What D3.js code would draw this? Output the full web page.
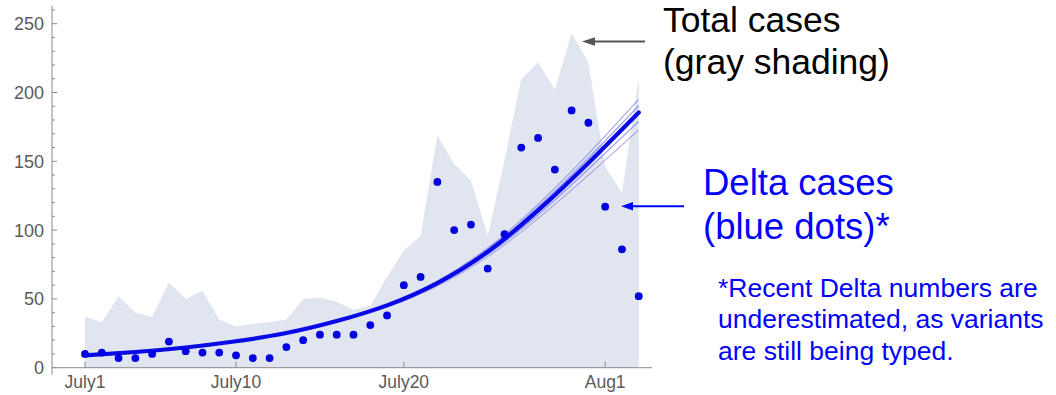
<!DOCTYPE html>
<html>
<head>
<meta charset="utf-8">
<script src="https://cdn.jsdelivr.net/npm/d3@7"></script>
<style>
  html, body { margin: 0; padding: 0; background: #ffffff; }
  svg { display: block; font-family: "Liberation Sans", Arial, Helvetica, sans-serif; }
</style>
</head>
<body>
<svg id="chart" width="1056" height="395"></svg>
<script>
// Daily case counts, July 1 (day 0) through August 3 (day 33)
const dayIndex = d3.range(34);
const totalCases = [37, 33, 52, 40, 37, 62, 50, 56, 35, 30, 32, 33, 35, 50, 51, 48,
                    42, 45, 66, 85, 96, 169, 148, 136, 96, 151, 210, 222, 202, 243, 222, 146, 127, 211];
const deltaCases = [10, 11, 7, 7, 10, 19, 12, 11, 11, 9, 7, 7, 15, 20, 24, 24,
                    24, 31, 38, 60, 66, 135, 100, 104, 72, 97, 160, 167, 144, 187, 178, 117, 86, 52];

// Growth fit (thick line) and its ensemble of alternative fits (thin lines)
const fitDays = [0, 3, 6, 9, 12, 15, 18, 21, 24, 27, 30, 33];
const fitMain = [9, 11.4, 14.7, 19.2, 25.2, 33.9, 45.3, 61.5, 84.3, 114.3, 148.8, 185.5];
const fitEnsemble = [
  [9, 11.42, 14.76, 19.34, 25.48, 34.43, 46.23, 63.09, 86.97, 118.6, 155.4, 195],
  [9, 11.41, 14.73, 19.27, 25.35, 34.18, 45.79, 62.34, 85.71, 116.6, 152.3, 190.5],
  [9, 11.39, 14.66, 19.10, 25.01, 33.54, 44.66, 60.41, 82.47, 111.1, 144.3, 179],
  [9, 11.38, 14.62, 19.01, 24.82, 33.19, 44.06, 59.38, 80.75, 108.5, 140.0, 172.8]
];

// Axis ticks
const xTickDays = [0, 9, 19, 31];
const xTickLabels = ["July1", "July10", "July20", "Aug1"];
const yMajorTicks = [0, 50, 100, 150, 200, 250];
const yMinorTicks = d3.range(0, 261, 10).filter(v => v % 50 !== 0);

const svg = d3.select("#chart");

const x = d3.scaleLinear().domain([-1.967, 33.79]).range([52, 652]);
const y = d3.scaleLinear().domain([0, 263]).range([367.7, 5.8]);

const axisColor = "#8a8a8a";
const labelColor = "#5a5a5a";

// Total cases: shaded area
const area = d3.area()
  .x((d, i) => x(dayIndex[i]))
  .y0(y(0))
  .y1(d => y(d))
  .curve(d3.curveLinear);

svg.append("path")
  .datum(totalCases)
  .attr("d", area)
  .attr("fill", "#e0e5f0");

// Fit lines
const fitLine = d3.line()
  .x((d, i) => x(fitDays[i]))
  .y(d => y(d))
  .curve(d3.curveNatural);

const ensembleColors = ["#6a6af0", "#4a4af5", "#5050f0", "#8a6ad8"];
fitEnsemble.forEach((series, k) => {
  svg.append("path")
    .datum(series)
    .attr("d", fitLine)
    .attr("fill", "none")
    .attr("stroke", ensembleColors[k])
    .attr("stroke-opacity", 0.6)
    .attr("stroke-width", 1.1);
});

svg.append("path")
  .datum(fitMain)
  .attr("d", fitLine)
  .attr("fill", "none")
  .attr("stroke", "#0a0ae6")
  .attr("stroke-width", 4.2)
  .attr("stroke-linecap", "round");

// Delta cases: dots
svg.append("g")
  .selectAll("circle")
  .data(deltaCases)
  .join("circle")
  .attr("cx", (d, i) => x(dayIndex[i]))
  .attr("cy", d => y(d))
  .attr("r", 3.9)
  .attr("fill", "#0000e0");

// Y axis
const yAxis = svg.append("g");
yAxis.append("line")
  .attr("x1", x.range()[0]).attr("x2", x.range()[0])
  .attr("y1", y.range()[1]).attr("y2", y(0) + 7)
  .attr("stroke", axisColor).attr("stroke-width", 1);
yAxis.selectAll("line.major")
  .data(yMajorTicks)
  .join("line")
  .attr("class", "major")
  .attr("x1", x.range()[0]).attr("x2", x.range()[0] + 5)
  .attr("y1", d => y(d)).attr("y2", d => y(d))
  .attr("stroke", axisColor);
yAxis.selectAll("line.minor")
  .data(yMinorTicks)
  .join("line")
  .attr("class", "minor")
  .attr("x1", x.range()[0]).attr("x2", x.range()[0] + 3)
  .attr("y1", d => y(d)).attr("y2", d => y(d))
  .attr("stroke", axisColor);
yAxis.selectAll("text")
  .data(yMajorTicks)
  .join("text")
  .attr("x", x.range()[0] - 8)
  .attr("y", d => y(d))
  .attr("dy", "0.36em")
  .attr("text-anchor", "end")
  .attr("font-size", 18)
  .attr("fill", labelColor)
  .text(d => d);

// X axis
const xAxis = svg.append("g");
xAxis.append("line")
  .attr("x1", x.range()[0]).attr("x2", x.range()[1])
  .attr("y1", y(0)).attr("y2", y(0))
  .attr("stroke", axisColor).attr("stroke-width", 1);
xAxis.selectAll("line.tick")
  .data(xTickDays)
  .join("line")
  .attr("class", "tick")
  .attr("x1", d => x(d)).attr("x2", d => x(d))
  .attr("y1", y(0)).attr("y2", y(0) - 6)
  .attr("stroke", axisColor);
xAxis.selectAll("text")
  .data(xTickDays)
  .join("text")
  .attr("x", d => x(d))
  .attr("y", 388)
  .attr("text-anchor", "middle")
  .attr("font-size", 17.5)
  .attr("fill", labelColor)
  .text((d, i) => xTickLabels[i]);

// Total cases annotation: arrow pointing at the shading peak
svg.append("line")
  .attr("x1", 645).attr("x2", 592)
  .attr("y1", 41.5).attr("y2", 41.5)
  .attr("stroke", "#555555").attr("stroke-width", 2);
svg.append("path")
  .attr("d", "M582,41.5 L595,37.2 L595,45.8 Z")
  .attr("fill", "#555555");

const totalLabel = svg.append("text")
  .attr("font-size", 35.5)
  .attr("fill", "#000000");
totalLabel.append("tspan").attr("x", 663).attr("y", 32).text("Total cases");
totalLabel.append("tspan").attr("x", 663).attr("y", 74).text("(gray shading)");

// Delta cases annotation: arrow pointing at the latest dots
svg.append("line")
  .attr("x1", 684).attr("x2", 630)
  .attr("y1", 206.3).attr("y2", 206.3)
  .attr("stroke", "#0000ff").attr("stroke-width", 2);
svg.append("path")
  .attr("d", "M621,206.3 L633,202.1 L633,210.5 Z")
  .attr("fill", "#0000ff");

const deltaLabel = svg.append("text")
  .attr("font-size", 36.5)
  .attr("fill", "#0000ff");
deltaLabel.append("tspan").attr("x", 703).attr("y", 195).text("Delta cases");
deltaLabel.append("tspan").attr("x", 703).attr("y", 238.5).text("(blue dots)*");

const note = svg.append("text")
  .attr("font-size", 26.5)
  .attr("fill", "#0000ff");
note.append("tspan").attr("x", 718).attr("y", 296.5).text("*Recent Delta numbers are");
note.append("tspan").attr("x", 718).attr("y", 328.3).text("underestimated, as variants");
note.append("tspan").attr("x", 718).attr("y", 360).text("are still being typed.");
</script>
</body>
</html>
